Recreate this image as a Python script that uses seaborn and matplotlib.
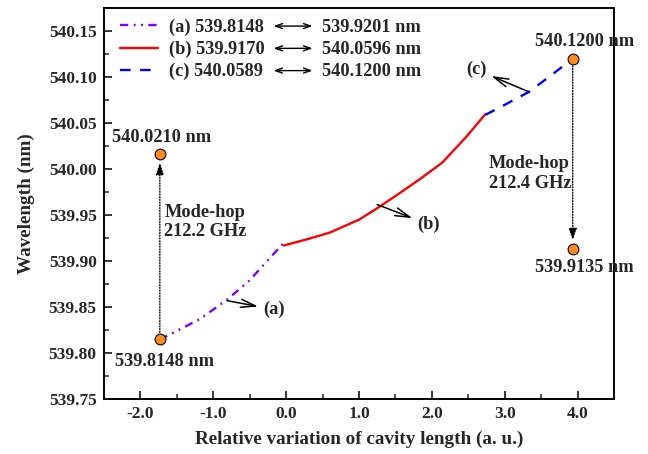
import numpy as np
import pandas as pd
import matplotlib
matplotlib.use("Agg")
import matplotlib.pyplot as plt
import seaborn as sns
from matplotlib.ticker import MultipleLocator, FormatStrFormatter

# ---- data ----
a_x = [-1.73, -1.45, -1.18, -0.81, -0.50, -0.18, -0.03]
a_y = [539.8148, 539.826, 539.837, 539.858, 539.879, 539.907, 539.9201]
b_x = [-0.03, 0.30, 0.60, 1.00, 1.26, 1.56, 1.85, 2.14, 2.47, 2.73]
b_y = [539.9170, 539.924, 539.931, 539.945, 539.958, 539.974, 539.990, 540.007, 540.035, 540.0596]
c_x = [2.73, 3.00, 3.33, 3.60, 3.93]
c_y = [540.0589, 540.070, 540.084, 540.100, 540.1200]
hop_x = [-1.73, -1.73, 3.93, 3.93]
hop_y = [539.8148, 540.016, 540.1200, 539.9135]
legend_left = ["(a) 539.8148", "(b) 539.9170", "(c) 540.0589"]
legend_right = ["539.9201 nm", "540.0596 nm", "540.1200 nm"]
point_labels = ["539.8148 nm", "540.0210 nm", "540.1200 nm", "539.9135 nm"]
hop_labels = ["Mode-hop\n212.2 GHz", "Mode-hop\n212.4 GHz"]

sns.set_style("ticks")
plt.rcParams['font.family'] = ['Liberation Serif', 'DejaVu Serif']
plt.rcParams['font.weight'] = 'bold'
plt.rcParams['axes.labelweight'] = 'bold'

fig = plt.figure(figsize=(6.48, 4.54), dpi=100)
ax = fig.add_axes([0.160, 0.121, 0.788, 0.861])

dfa = pd.DataFrame({"x": a_x, "y": a_y})
dfb = pd.DataFrame({"x": b_x, "y": b_y})
dfc = pd.DataFrame({"x": c_x, "y": c_y})

lw = 1.7
sns.lineplot(data=dfa, x="x", y="y", ax=ax, color="#7F00FF", lw=lw, sort=False,
             linestyle=(0, (3.5, 2.3, 0.8, 2.3, 0.8, 2.3)), label=legend_left[0])
sns.lineplot(data=dfb, x="x", y="y", ax=ax, color="#FF0000", lw=lw, sort=False,
             label=legend_left[1])
sns.lineplot(data=dfc, x="x", y="y", ax=ax, color="#0000FF", lw=lw, sort=False,
             linestyle=(0, (4.5, 4)), label=legend_left[2])

# mode-hop arrows
arr_kw = dict(arrowstyle='-|>,head_length=0.6,head_width=0.2', color='black', lw=0.9,
              linestyle=(0, (1, 1.2)), shrinkA=5, shrinkB=6, mutation_scale=12)
ax.annotate("", xy=(hop_x[1], hop_y[1]), xytext=(hop_x[0], hop_y[0]), arrowprops=arr_kw)
ax.annotate("", xy=(hop_x[3], hop_y[3]), xytext=(hop_x[2], hop_y[2]), arrowprops=arr_kw)

sns.scatterplot(x=hop_x, y=hop_y, ax=ax, color="#FF8C1A", edgecolor="black",
                linewidth=0.8, s=60, zorder=5)

fs = 13.2
ax.text(-1.67, 539.791, point_labels[0], ha='center', va='center', fontsize=fs, fontweight='bold')
ax.text(-1.70, 540.0345, point_labels[1], ha='center', va='center', fontsize=fs, fontweight='bold')
ax.text(4.09, 540.139, point_labels[2], ha='center', va='center', fontsize=fs, fontweight='bold')
ax.text(4.09, 539.893, point_labels[3], ha='center', va='center', fontsize=fs, fontweight='bold')
ax.text(-1.67, 539.9426, hop_labels[0], ha='left', va='center', fontsize=fs,
        fontweight='bold', linespacing=1.15)
ax.text(3.91, 539.9953, hop_labels[1], ha='right', va='center', multialignment='left',
        fontsize=fs, fontweight='bold', linespacing=1.2)

lab_kw = dict(arrowstyle='<-,head_length=0.8,head_width=0.22', color='black', lw=1.1,
              shrinkA=1, shrinkB=0)
ax.annotate("(a)", xy=(-0.81, 539.857), xytext=(-0.17, 539.8475), ha='center', va='center',
            fontsize=fs, fontweight='bold', arrowprops=lab_kw)
ax.annotate("(b)", xy=(1.25, 539.9615), xytext=(1.95, 539.940), ha='center', va='center',
            fontsize=fs, fontweight='bold', arrowprops=lab_kw)
ax.annotate("(c)", xy=(3.33, 540.084), xytext=(2.61, 540.108), ha='center', va='center',
            fontsize=fs, fontweight='bold', arrowprops=lab_kw)

ax.set_xlim(-2.5, 4.5)
ax.set_ylim(539.75, 540.175)
ax.xaxis.set_major_locator(MultipleLocator(1.0))
ax.xaxis.set_minor_locator(MultipleLocator(0.5))
ax.yaxis.set_major_locator(MultipleLocator(0.05))
ax.yaxis.set_minor_locator(MultipleLocator(0.025))
ax.xaxis.set_major_formatter(FormatStrFormatter('%.1f'))
ax.yaxis.set_major_formatter(FormatStrFormatter('%.2f'))
ax.tick_params(which='major', direction='in', length=6, width=1.3, labelsize=12.5, pad=5)
ax.tick_params(which='minor', direction='in', length=3.5, width=1.1)
ax.tick_params(top=False, right=False, which='both')
for sp in ax.spines.values():
    sp.set_linewidth(1.4)
    sp.set_color('black')
    sp.set_visible(True)
for t in ax.get_xticklabels() + ax.get_yticklabels():
    t.set_fontweight('bold')
ax.set_xlabel("Relative variation of cavity length (a. u.)", fontsize=13.8, fontweight='bold', labelpad=6)
ax.set_ylabel("Wavelength (nm)", fontsize=13.8, fontweight='bold', labelpad=10)

leg = ax.legend(loc='upper left', frameon=False, fontsize=fs, handlelength=2.05,
                handletextpad=0.6, labelspacing=0.27, borderaxespad=0.5, borderpad=0.4,
                bbox_to_anchor=(0.0, 1.016))
for t in leg.get_texts():
    t.set_fontweight('bold')

fig.canvas.draw()
renderer = fig.canvas.get_renderer()
bbs = [t.get_window_extent(renderer) for t in leg.get_texts()]
xr = max(bb.x1 for bb in bbs)
for bb, txt in zip(bbs, legend_right):
    yc = (bb.y0 + bb.y1) / 2 + 1
    ax.annotate("", xy=(xr + 48, yc), xytext=(xr + 9, yc), xycoords='figure pixels',
                textcoords='figure pixels',
                arrowprops=dict(arrowstyle='<->,head_length=0.5,head_width=0.18', color='black',
                                lw=1.0, shrinkA=0, shrinkB=0))
    ax.annotate(txt, xy=(xr + 57, yc - 1), xycoords='figure pixels', ha='left', va='center',
                fontsize=fs, fontweight='bold')

fig.savefig("out.png", dpi=100)
